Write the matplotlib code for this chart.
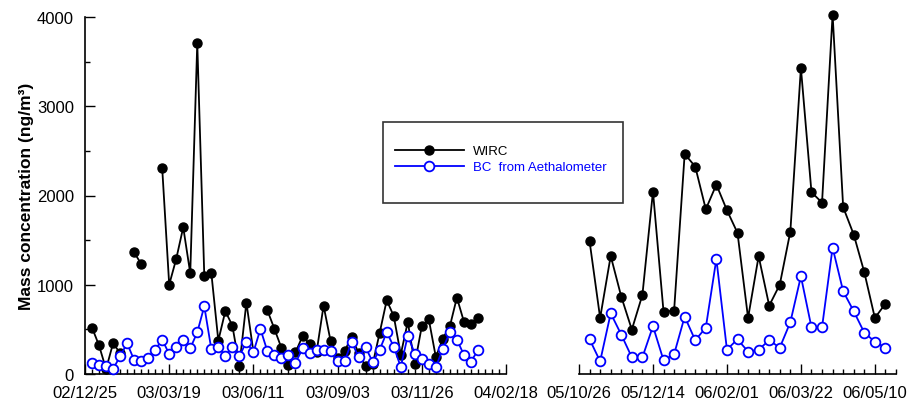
import numpy as np
import pandas as pd
import matplotlib
matplotlib.use('Agg')
import matplotlib.pyplot as plt
import matplotlib.dates as mdates
from matplotlib.patches import Rectangle
from matplotlib.lines import Line2D

plt.rcParams['font.family'] = ['Liberation Sans', 'DejaVu Sans']

nan = np.nan

# first campaign, weekly samples
dates1 = pd.date_range('2003-01-01', periods=56, freq='7D')
wirc1 = [520, 320, 55, 344, 235, nan, 1364, 1233, nan, nan,
         2309, 1001, 1289, 1644, 1129, 3707, 1102, 1135, 374, 705,
         542, 93, 800, 250, nan, 712, 504, 291, 101, 243,
         423, 336, 243, 766, 370, 180, 255, 420, 230, 85,
         110, 463, 826, 650, 218, 583, 112, 535, 611, 190,
         396, 535, 856, 587, 557, 624]
bc1 = [120, 104, 93, 56, 198, 344, 157, 142, 179, 272,
       385, 224, 299, 385, 288, 467, 759, 280, 299, 205,
       299, 198, 362, 243, 504, 254, 213, 176, 213, 123,
       288, 232, 272, 272, 261, 142, 142, 362, 187, 299,
       134, 272, 467, 308, 78, 430, 228, 170, 116, 78,
       284, 470, 386, 214, 140, 265]

# second campaign, weekly samples
dates2 = pd.date_range('2005-11-02', periods=29, freq='7D')
wirc2 = [1488, 628, 1323, 867, 497, 886, 2044, 698, 710, 2466,
         2324, 1846, 2122, 1835, 1581, 628, 1320, 766, 1001, 1595,
         3430, 2037, 1920, 4028, 1869, 1562, 1140, 628, 788]
bc2 = [389, 142, 680, 441, 187, 187, 535, 154, 221, 643,
       378, 519, 1289, 273, 389, 250, 273, 378, 295, 580,
       1095, 523, 523, 1416, 927, 703, 463, 362, 295]

xlim1 = ('2002-12-25', '2004-02-18')
xlim2 = ('2005-10-26', '2006-05-24')

fig = plt.figure(figsize=(9.08, 4.06), dpi=100)
ax1 = fig.add_axes([85/908, 31/406, 421/908, 357/406])
ax2 = fig.add_axes([579/908, 31/406, 317/908, 357/406])

wirc_style = dict(color='black', lw=1.3, marker='o', ms=6.5,
                  mfc='black', mec='black', clip_on=False, zorder=3)
bc_style = dict(color='#0000ff', lw=1.3, marker='o', ms=7,
                mfc='white', mec='#0000ff', mew=1.3, clip_on=False, zorder=4)

for ax, d, w, b, lim, step in [(ax1, dates1, wirc1, bc1, xlim1, '84D'),
                               (ax2, dates2, wirc2, bc2, xlim2, '49D')]:
    ax.plot(d, w, **wirc_style)
    ax.plot(d, b, **bc_style)
    ax.set_xlim(pd.Timestamp(lim[0]), pd.Timestamp(lim[1]))
    ax.set_ylim(0, 4000)
    major = pd.date_range(lim[0], lim[1], freq=step)
    minor = pd.date_range(lim[0], lim[1], freq='7D')
    ax.xaxis.set_major_locator(plt.FixedLocator(mdates.date2num(major)))
    ax.xaxis.set_minor_locator(plt.FixedLocator(mdates.date2num(minor)))
    ax.xaxis.set_major_formatter(mdates.DateFormatter('%y/%m/%d'))
    ax.spines['top'].set_visible(False)
    ax.spines['right'].set_visible(False)
    ax.tick_params(axis='x', which='major', direction='in', length=7,
                   width=1, labelsize=12, pad=8)
    ax.tick_params(axis='x', which='minor', direction='in', length=3.5, width=1)
    for s in ax.spines.values():
        s.set_linewidth(1.2)

ax1.yaxis.set_major_locator(plt.MultipleLocator(1000))
ax1.yaxis.set_minor_locator(plt.MultipleLocator(500))
ax1.tick_params(axis='y', which='major', direction='in', length=7,
                width=1, labelsize=12, pad=8)
ax1.tick_params(axis='y', which='minor', direction='in', length=3.5, width=1)
ax1.set_ylabel('Mass concentration (ng/m\u00b3)', fontsize=12.5,
               fontweight='bold', labelpad=2)

ax2.spines['left'].set_visible(False)
ax2.tick_params(axis='y', which='both', left=False, labelleft=False)

# legend box
fig.patches.append(Rectangle((383/908, 202/406), 240/908, 81/406,
                             transform=fig.transFigure, fill=False,
                             ec='#333333', lw=1.2))
handles = [Line2D([], [], **{k: v for k, v in wirc_style.items() if k != 'clip_on'}),
           Line2D([], [], **{k: v for k, v in bc_style.items() if k != 'clip_on'})]
leg = fig.legend(handles, ['WIRC', 'BC  from Aethalometer'],
                 loc='upper left', bbox_to_anchor=(395/908, 1 - 146/406),
                 frameon=False, fontsize=9.5, handlelength=5.2,
                 handletextpad=0.7, labelspacing=0.3, borderpad=0,
                 borderaxespad=0)
leg.get_texts()[1].set_color('#0000ff')

fig.savefig('out.png', dpi=100)
